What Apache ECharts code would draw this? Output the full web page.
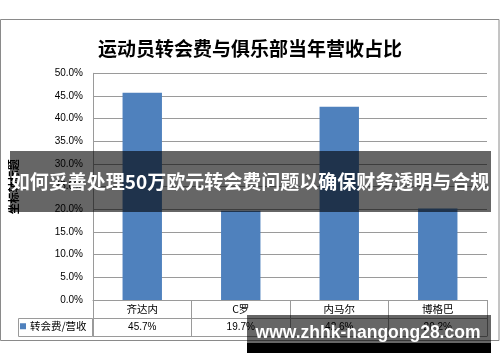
<!DOCTYPE html>
<html>
<head>
<meta charset="utf-8">
<script src="https://cdn.jsdelivr.net/npm/echarts@6/dist/echarts.min.js"></script>
<style>html,body{margin:0;padding:0;background:#fff;}#c{width:500px;height:362px;}</style>
</head>
<body>
<div id="c"></div>
<script>
const titleText = '运动员转会费与俱乐部当年营收占比';
const categories = ['齐达内', 'C罗', '内马尔', '博格巴'];
const seriesName = '转会费/营收';
const values = [45.7, 19.7, 42.6, 20.2];
const yTicks = [0, 5, 10, 15, 20, 25, 30, 35, 40, 45, 50];
const yAxisName = '坐标轴标题';
const bannerText = '如何妥善处理50万欧元转会费问题以确保财务透明与合规';
const watermarkText = 'www.zhhk-nangong28.com';

const CJK = '"Noto Sans CJK SC", sans-serif';
const NUM = '"Liberation Sans", Arial, sans-serif';
const lineCol = '#9a9a9a';

const chart = echarts.init(document.getElementById('c'), null, {renderer: 'canvas'});
chart.setOption({
  animation: false,
  backgroundColor: '#fff',
  title: {
    text: titleText, left: 'center', top: 34,
    textStyle: {fontFamily: CJK, fontSize: 19, fontWeight: 'bold', color: '#000'}
  },
  legend: {
    data: [seriesName], left: 20, top: 321, padding: 0,
    icon: 'rect', itemWidth: 6, itemHeight: 6, itemGap: 4,
    textStyle: {fontFamily: CJK, fontSize: 10.5, color: '#000', padding: [0, 0, 0, -1]}
  },
  grid: {left: 92, right: 13, top: 73.3, bottom: 62, containLabel: false},
  xAxis: [
    {
      type: 'category', data: categories, position: 'bottom',
      axisLine: {show: true, lineStyle: {color: lineCol}},
      axisTick: {show: true, alignWithLabel: false, interval: 0, length: 36, lineStyle: {color: lineCol}},
      axisLabel: {margin: 4, fontFamily: CJK, fontSize: 10.5, color: '#000', interval: 0}
    },
    {
      type: 'category', data: categories, position: 'bottom', offset: 18,
      axisLine: {show: true, lineStyle: {color: lineCol}},
      axisTick: {show: false},
      axisLabel: {margin: 4, fontFamily: NUM, fontSize: 10, color: '#000', interval: 0,
        formatter: (v, i) => values[i].toFixed(1) + '%'}
    },
    {
      type: 'category', data: categories, position: 'bottom', offset: 36,
      axisLine: {show: true, lineStyle: {color: lineCol}},
      axisTick: {show: false}, axisLabel: {show: false}
    }
  ],
  yAxis: {
    type: 'value', min: yTicks[0], max: yTicks[yTicks.length - 1], interval: 5,
    name: yAxisName, nameLocation: 'middle', nameRotate: 90, nameGap: 74,
    nameTextStyle: {fontFamily: CJK, fontSize: 11, fontWeight: 'bold', color: '#000'},
    axisLine: {show: true, lineStyle: {color: lineCol}},
    axisTick: {show: false},
    axisLabel: {margin: 10, fontFamily: NUM, fontSize: 10, color: '#000',
      formatter: v => v.toFixed(1) + '%'},
    splitLine: {show: true, lineStyle: {color: lineCol}}
  },
  series: [{
    name: seriesName, type: 'bar', data: values, barWidth: '40%', xAxisIndex: 0,
    itemStyle: {color: '#4F81BD'}
  }],
  graphic: [
    {type: 'rect', z: -1, shape: {x: 0.5, y: 19.5, width: 498.5, height: 321}, style: {fill: null, stroke: '#8a8a8a', lineWidth: 1}},
    {type: 'rect', z: 1, shape: {x: 18.5, y: 318.5, width: 74, height: 18}, style: {fill: null, stroke: lineCol, lineWidth: 1}},
    {type: 'rect', z: 100, shape: {x: 10, y: 151, width: 481, height: 61}, style: {fill: 'rgba(0,0,0,0.6)'}},
    {type: 'text', z: 101, x: 250, y: 182, style: {text: bannerText, fill: '#fff', font: 'bold 19px "Noto Sans CJK SC", sans-serif', textAlign: 'center', textVerticalAlign: 'middle'}},
    {type: 'rect', z: 100, shape: {x: 247, y: 315, width: 244, height: 28}, style: {fill: 'rgba(0,0,0,0.6)'}},
    {type: 'rect', z: 100, shape: {x: 247, y: 343, width: 244, height: 10}, style: {fill: '#000'}},
    {type: 'text', z: 101, x: 368, y: 333, style: {text: watermarkText, fill: '#fff', font: 'bold 17.5px "Liberation Sans", Arial, sans-serif', textAlign: 'center', textVerticalAlign: 'middle'}}
  ]
});
</script>
</body>
</html>
